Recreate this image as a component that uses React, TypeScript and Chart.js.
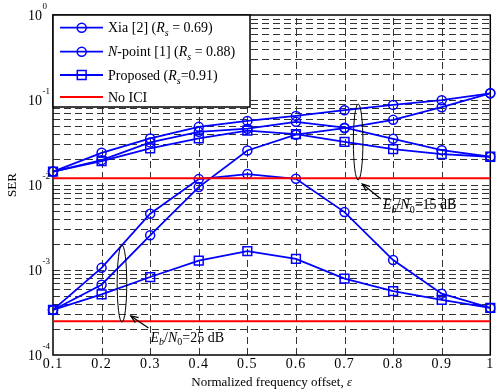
import React, { useEffect, useRef } from 'react';
import { Chart, registerables } from 'chart.js';

Chart.register(...registerables);

// ---------- data ----------
const epsilon = [0.1, 0.2, 0.3, 0.4, 0.5, 0.6, 0.7, 0.8, 0.9, 1.0];

// Eb/N0 = 15 dB
const xia15 = [0.0144, 0.0239, 0.0353, 0.0483, 0.0568, 0.065, 0.0759, 0.0876, 0.0995, 0.12];
const npoint15 = [0.0144, 0.0196, 0.0317, 0.0422, 0.046, 0.0553, 0.0473, 0.0349, 0.0257, 0.0215];
const proposed15 = [0.0144, 0.0191, 0.0269, 0.0353, 0.0437, 0.0396, 0.0322, 0.0264, 0.0231, 0.0215];

// Eb/N0 = 25 dB
const xia25 = [3.39e-4, 6.72e-4, 2.56e-3, 9.45e-3, 0.0255, 0.0391, 0.0466, 0.0584, 0.0823, 0.12];
const npoint25 = [3.39e-4, 1.06e-3, 4.59e-3, 0.01173, 0.01343, 0.01183, 4.8e-3, 1.31e-3, 5.27e-4, 3.58e-4];
const proposed25 = [3.39e-4, 5.18e-4, 8.27e-4, 1.29e-3, 1.67e-3, 1.35e-3, 7.9e-4, 5.66e-4, 4.44e-4, 3.58e-4];

// No ICI reference levels
const noIci15 = 0.012;
const noIci25 = 2.5e-4;

// axis ticks
const xTickValues = [0.1, 0.2, 0.3, 0.4, 0.5, 0.6, 0.7, 0.8, 0.9, 1.0];
const xTickLabels = ['0.1', '0.2', '0.3', '0.4', '0.5', '0.6', '0.7', '0.8', '0.9', '1'];
const yTickValues = [1, 0.1, 0.01, 0.001, 0.0001];
const yTickExponents = ['0', '-1', '-2', '-3', '-4'];

const BLUE = '#0000ff';
const RED = '#ff0000';
const FONT = '"Liberation Serif", "Times New Roman", serif';

type Seg = { t: string; i?: boolean; sub?: boolean };

function drawRich(ctx: CanvasRenderingContext2D, x: number, y: number, segs: Seg[], size: number) {
  let cx = x;
  for (const s of segs) {
    const fs = s.sub ? Math.round(size * 0.72) : size;
    ctx.font = `${s.i ? 'italic ' : ''}${fs}px ${FONT}`;
    const dy = s.sub ? size * 0.28 : 0;
    ctx.fillText(s.t, cx, y + dy);
    cx += ctx.measureText(s.t).width;
  }
  return cx - x;
}

function drawMarker(ctx: CanvasRenderingContext2D, style: string, x: number, y: number) {
  ctx.beginPath();
  if (style === 'circle') {
    ctx.arc(x, y, 4.5, 0, Math.PI * 2);
  } else if (style === 'rect') {
    ctx.rect(x - 4.4, y - 4.4, 8.8, 8.8);
  }
  ctx.stroke();
}

const legendItems: { segs: Seg[]; color: string; marker: string | null }[] = [
  { segs: [{ t: 'Xia [2] (' }, { t: 'R', i: true }, { t: 's', i: true, sub: true }, { t: ' = 0.69)' }], color: BLUE, marker: 'circle' },
  { segs: [{ t: 'N', i: true }, { t: '-point [1] (' }, { t: 'R', i: true }, { t: 's', i: true, sub: true }, { t: ' = 0.88)' }], color: BLUE, marker: 'circle' },
  { segs: [{ t: 'Proposed (' }, { t: 'R', i: true }, { t: 's', i: true, sub: true }, { t: '=0.91)' }], color: BLUE, marker: 'rect' },
  { segs: [{ t: 'No ICI' }], color: RED, marker: null },
];

// annotation anchors in data coordinates
const ann15 = { ex: 0.728, eTop: 0.0897, eBot: 0.01145, tipX: 0.7365, tipY: 0.01027, tailX: 0.775, tailY: 0.00685, textX: 0.779, textY: 0.0052, label: '15 dB' };
const ann25 = { ex: 0.2419, eTop: 1.97e-3, eBot: 2.44e-4, tipX: 0.2601, tipY: 2.88e-4, tailX: 0.2966, tailY: 2.08e-4, textX: 0.3007, textY: 1.44e-4, label: '25 dB' };

const decorPlugin = {
  id: 'decor',
  beforeDatasetsDraw(chart: any) {
    const ctx: CanvasRenderingContext2D = chart.ctx;
    const xs = chart.scales.x;
    const ys = chart.scales.y;
    const { left, right, top, bottom } = chart.chartArea;
    ctx.save();
    ctx.strokeStyle = '#333';
    ctx.lineWidth = 1;
    ctx.setLineDash([7, 4]);
    for (const v of xTickValues.slice(1, -1)) {
      const px = Math.round(xs.getPixelForValue(v)) + 0.5;
      ctx.beginPath();
      ctx.moveTo(px, bottom);
      ctx.lineTo(px, top);
      ctx.stroke();
    }
    for (let e = -4; e <= -1; e++) {
      for (let m = 1; m <= 9; m++) {
        if (e === -4 && m === 1) continue;
        const py = Math.round(ys.getPixelForValue(m * Math.pow(10, e))) + 0.5;
        ctx.beginPath();
        ctx.moveTo(left, py);
        ctx.lineTo(right, py);
        ctx.stroke();
      }
    }
    ctx.setLineDash([]);
    ctx.strokeStyle = '#000';
    ctx.lineWidth = 1.5;
    ctx.strokeRect(left, top, right - left, bottom - top);
    ctx.restore();
  },
  afterDraw(chart: any) {
    const ctx: CanvasRenderingContext2D = chart.ctx;
    const xs = chart.scales.x;
    const ys = chart.scales.y;
    const { left, right, top, bottom } = chart.chartArea;
    ctx.save();
    ctx.fillStyle = '#000';
    ctx.textBaseline = 'alphabetic';

    // x tick labels
    ctx.font = `14px ${FONT}`;
    ctx.textAlign = 'center';
    (ctx as any).letterSpacing = '1px';
    xTickValues.forEach((v, i) => {
      ctx.fillText(xTickLabels[i], xs.getPixelForValue(v), bottom + 13);
    });
    (ctx as any).letterSpacing = '0px';

    // y tick labels 10^n
    ctx.textAlign = 'left';
    yTickValues.forEach((v, i) => {
      const py = ys.getPixelForValue(v);
      ctx.font = `14px ${FONT}`;
      ctx.fillText('10', 28, py + 5);
      const w = ctx.measureText('10').width;
      ctx.font = `9px ${FONT}`;
      ctx.fillText(yTickExponents[i], 28 + w + 0.5, py - 6);
    });

    // axis titles
    ctx.textAlign = 'left';
    ctx.font = `13px ${FONT}`;
    const t1 = 'Normalized frequency offset, ';
    ctx.font = `13px ${FONT}`;
    const w1 = ctx.measureText(t1).width;
    ctx.font = `italic 13px ${FONT}`;
    const w2 = ctx.measureText('ε').width;
    const sx = (left + right) / 2 - (w1 + w2) / 2;
    ctx.font = `13px ${FONT}`;
    ctx.fillText(t1, sx, 386);
    ctx.font = `italic 13px ${FONT}`;
    ctx.fillText('ε', sx + w1, 386);

    ctx.save();
    ctx.translate(16, (top + bottom) / 2);
    ctx.rotate(-Math.PI / 2);
    ctx.textAlign = 'center';
    ctx.font = `13px ${FONT}`;
    ctx.fillText('SER', 0, 0);
    ctx.restore();

    // legend
    const lx0 = left, ly0 = top, lx1 = 250, ly1 = 107;
    ctx.fillStyle = '#fff';
    ctx.fillRect(lx0, ly0, lx1 - lx0, ly1 - ly0);
    ctx.strokeStyle = '#000';
    ctx.lineWidth = 1.5;
    ctx.strokeRect(lx0, ly0, lx1 - lx0, ly1 - ly0);
    const rows = [27.7, 51.7, 75, 97];
    legendItems.forEach((it, i) => {
      const ry = rows[i];
      ctx.strokeStyle = it.color;
      ctx.lineWidth = it.marker ? 1.8 : 2;
      ctx.beginPath();
      ctx.moveTo(60, ry);
      ctx.lineTo(103, ry);
      ctx.stroke();
      if (it.marker) {
        ctx.lineWidth = 1.5;
        drawMarker(ctx, it.marker, 81.7, ry);
      }
      ctx.fillStyle = '#000';
      ctx.textAlign = 'left';
      drawRich(ctx, 108, ry + 4.6, it.segs, 14);
    });

    // annotations
    for (const a of [ann15, ann25]) {
      const cx = xs.getPixelForValue(a.ex);
      const yT = ys.getPixelForValue(a.eTop);
      const yB = ys.getPixelForValue(a.eBot);
      ctx.strokeStyle = '#000';
      ctx.lineWidth = 1;
      ctx.beginPath();
      ctx.ellipse(cx, (yT + yB) / 2, 4.8, (yB - yT) / 2, 0, 0, Math.PI * 2);
      ctx.stroke();
      const tx = xs.getPixelForValue(a.tipX), ty = ys.getPixelForValue(a.tipY);
      const bx = xs.getPixelForValue(a.tailX), by = ys.getPixelForValue(a.tailY);
      ctx.lineWidth = 1.2;
      ctx.beginPath();
      ctx.moveTo(bx, by);
      ctx.lineTo(tx, ty);
      ctx.stroke();
      const ang = Math.atan2(ty - by, tx - bx);
      const hl = 8, ha = 0.38;
      ctx.beginPath();
      ctx.moveTo(tx - hl * Math.cos(ang - ha), ty - hl * Math.sin(ang - ha));
      ctx.lineTo(tx, ty);
      ctx.lineTo(tx - hl * Math.cos(ang + ha), ty - hl * Math.sin(ang + ha));
      ctx.stroke();
      ctx.fillStyle = '#000';
      drawRich(ctx, xs.getPixelForValue(a.textX), ys.getPixelForValue(a.textY),
        [{ t: 'E', i: true }, { t: 'b', i: true, sub: true }, { t: '/' }, { t: 'N', i: true }, { t: '0', sub: true }, { t: '=' + a.label }], 14);
    }
    ctx.restore();
  },
};

function series(values: number[], style: string | false, label: string) {
  return {
    label,
    data: epsilon.map((x, i) => ({ x, y: values[i] })),
    borderColor: BLUE,
    backgroundColor: 'rgba(0,0,0,0)',
    borderWidth: 1.8,
    pointStyle: style || 'circle',
    pointRadius: style === 'rect' ? 6.2 : 4.5,
    pointBorderWidth: 1.5,
    pointBorderColor: BLUE,
    pointBackgroundColor: 'rgba(0,0,0,0)',
    fill: false,
    tension: 0,
    clip: false as any,
  };
}

function flat(value: number, label: string) {
  return {
    label,
    data: [{ x: epsilon[0], y: value }, { x: epsilon[epsilon.length - 1], y: value }],
    borderColor: RED,
    borderWidth: 2,
    pointRadius: 0,
    fill: false,
    clip: false as any,
  };
}

export default function App() {
  const ref = useRef<HTMLCanvasElement>(null);
  useEffect(() => {
    document.body.style.margin = '0';
    const canvas = ref.current!;
    const chart = new Chart(canvas, {
      type: 'line',
      data: {
        datasets: [
          flat(noIci15, 'No ICI 15 dB'),
          flat(noIci25, 'No ICI 25 dB'),
          series(xia15, 'circle', 'Xia [2] 15 dB'),
          series(npoint15, 'circle', 'N-point [1] 15 dB'),
          series(proposed15, 'rect', 'Proposed 15 dB'),
          series(xia25, 'circle', 'Xia [2] 25 dB'),
          series(npoint25, 'circle', 'N-point [1] 25 dB'),
          series(proposed25, 'rect', 'Proposed 25 dB'),
        ] as any,
      },
      options: {
        responsive: false,
        animation: false,
        devicePixelRatio: 1,
        layout: { padding: { left: 53, top: 15, right: 1, bottom: 37 } },
        plugins: { legend: { display: false }, tooltip: { enabled: false } },
        scales: {
          x: { type: 'linear', display: false, min: 0.1, max: 1 },
          y: { type: 'logarithmic', display: false, min: 1e-4, max: 1 },
        },
      },
      plugins: [decorPlugin],
    });
    return () => chart.destroy();
  }, []);
  return (
    <div style={{ width: 498, height: 392, background: '#fff' }}>
      <canvas ref={ref} width={498} height={392} style={{ display: 'block' }} />
    </div>
  );
}
